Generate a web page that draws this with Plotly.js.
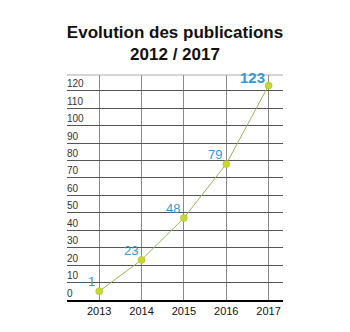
<!DOCTYPE html>
<html><head><meta charset="utf-8">
<script src="https://cdn.plot.ly/plotly-3.0.1.min.js"></script>
<style>html,body{margin:0;padding:0;background:#fff}#c{width:350px;height:332px}</style>
</head><body><div id="c"></div>
<script>
var years = [2013, 2014, 2015, 2016, 2017];
var values = [5, 23, 47, 78, 123];
var labels = ['1', '23', '48', '79', '123'];
var yTicks = [0, 10, 20, 30, 40, 50, 60, 70, 80, 90, 100, 110, 120];

var trace = {
  x: years, y: values, type: 'scatter', mode: 'lines+markers',
  line: {color: '#94b65a', width: 1},
  marker: {color: '#c9d830', size: 7, line: {color: '#a8b820', width: 0.5}},
  cliponaxis: false, hoverinfo: 'none'
};

var annotations = years.map(function (yr, i) {
  var last = i === years.length - 1;
  return {
    x: yr, y: values[i], xref: 'x', yref: 'y',
    text: last ? '<b>' + labels[i] + '</b>' : labels[i],
    showarrow: false, xanchor: 'right', yanchor: 'bottom',
    xshift: -2, yshift: last ? -3 : 0,
    font: {family: 'Liberation Sans, Arial', size: last ? 15 : 13, color: '#3a96d2'}
  };
});

var layout = {
  width: 350, height: 332,
  margin: {l: 67, r: 67, t: 75, b: 32},
  paper_bgcolor: '#fff', plot_bgcolor: '#fff',
  showlegend: false,
  title: {text: '<b>Evolution des publications<br>2012 / 2017</b>',
    font: {family: 'Liberation Sans, Arial', size: 17, color: '#111'},
    x: 0.5, xanchor: 'center', y: 0.885, yanchor: 'top'},
  xaxis: {
    type: 'linear', range: [2012.24, 2017.34],
    tickvals: years, ticktext: years.map(String),
    showgrid: true, gridcolor: '#8a8a8a', gridwidth: 1,
    zeroline: false, showline: true, linecolor: '#000', linewidth: 2,
    ticks: '', tickfont: {family: 'Liberation Sans, Arial', size: 11, color: '#111'},
    fixedrange: true
  },
  yaxis: {
    range: [0, 129], tickvals: yTicks,
    showgrid: true, gridcolor: '#555', gridwidth: 1,
    zeroline: false, showline: false, ticks: '',
    ticklabelposition: 'inside top', ticklabelstandoff: -3,
    tickfont: {family: 'Liberation Sans, Arial', size: 10, color: '#333'},
    fixedrange: true
  },
  annotations: annotations,
  shapes: [{type: 'line', xref: 'paper', yref: 'paper', x0: 0, x1: 1, y0: 1, y1: 1,
    line: {color: '#aaa', width: 1}}]
};

Plotly.newPlot('c', [trace], layout, {displayModeBar: false, staticPlot: true});
</script></body></html>
